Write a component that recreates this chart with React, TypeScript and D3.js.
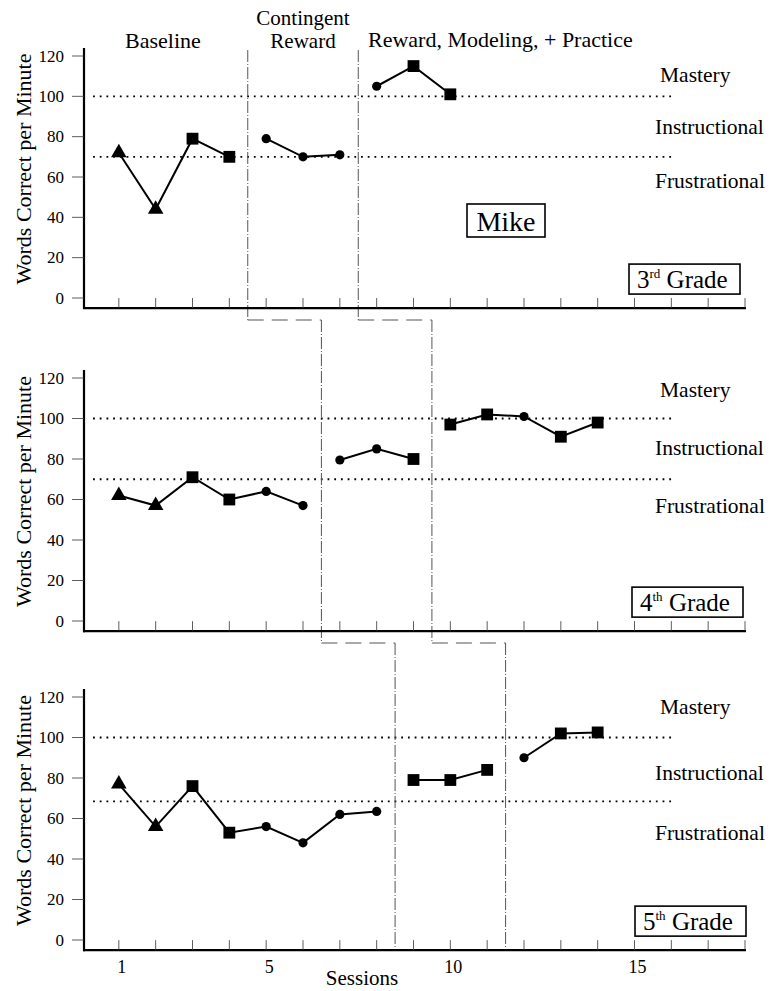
import * as d3 from "d3";

// ── Data ──────────────────────────────────────────────────────────────────────

const sessionTicks = d3.range(1, 19);
const sessionLabels = [1, 5, 10, 15];
const yTicks = [0, 20, 40, 60, 80, 100, 120];
const zoneLabels = ["Mastery", "Instructional", "Frustrational"];
const phaseTitles = ["Baseline", "Contingent Reward", "Reward, Modeling, + Practice"];

// 3rd grade
const sessions3 = [1, 2, 3, 4, 5, 6, 7, 8, 9, 10];
const values3 = [72, 44, 79, 70, 79, 70, 71, 105, 115, 101];
const markers3 = ["tri", "tri", "sq", "sq", "dot", "dot", "dot", "dot", "sq", "sq"];
const phases3 = [4.5, 7.5];
const bands3 = [100, 70];

// 4th grade
const sessions4 = [1, 2, 3, 4, 5, 6, 7, 8, 9, 10, 11, 12, 13, 14];
const values4 = [62, 57, 71, 60, 64, 57, 79.5, 85, 80, 97, 102, 101, 91, 98];
const markers4 = ["tri", "tri", "sq", "sq", "dot", "dot", "dot", "dot", "sq", "sq", "sq", "dot", "sq", "sq"];
const phases4 = [6.5, 9.5];
const bands4 = [100, 70];

// 5th grade
const sessions5 = [1, 2, 3, 4, 5, 6, 7, 8, 9, 10, 11, 12, 13, 14];
const values5 = [77, 56, 76, 53, 56, 48, 62, 63.5, 79, 79, 84, 90, 102, 102.5];
const markers5 = ["tri", "tri", "sq", "sq", "dot", "dot", "dot", "dot", "sq", "sq", "sq", "dot", "sq", "sq"];
const phases5 = [8.5, 11.5];
const bands5 = [100, 68.5];

// ── Layout ────────────────────────────────────────────────────────────────────

const W = 772;
const H = 991;
const FONT = "'Liberation Serif', 'Times New Roman', serif";

const x = d3.scaleLinear().domain([0, 18]).range([82, 745]);

interface Panel {
  grade: string;
  sup: string;
  sessions: number[];
  values: number[];
  markers: string[];
  phases: number[];
  bands: number[];
  y0: number; // pixel of value 0
  y120: number; // pixel of value 120
  zoneY: number[];
  phaseTop: number;
  phaseBottom: number;
}

const panels: Panel[] = [
  { grade: "3", sup: "rd", sessions: sessions3, values: values3, markers: markers3, phases: phases3, bands: bands3,
    y0: 298, y120: 56, zoneY: [82, 134, 188], phaseTop: 50, phaseBottom: 320 },
  { grade: "4", sup: "th", sessions: sessions4, values: values4, markers: markers4, phases: phases4, bands: bands4,
    y0: 621, y120: 378, zoneY: [397, 455, 513], phaseTop: 320, phaseBottom: 643 },
  { grade: "5", sup: "th", sessions: sessions5, values: values5, markers: markers5, phases: phases5, bands: bands5,
    y0: 940, y120: 697, zoneY: [714, 780, 840], phaseTop: 643, phaseBottom: 950 },
];

const triangle = d3.symbol().type(d3.symbolTriangle).size(105)();
const square = d3.symbol().type(d3.symbolSquare).size(140)();

function Marker({ kind, cx, cy }: { kind: string; cx: number; cy: number }) {
  if (kind === "dot") return <circle cx={cx} cy={cy} r={4.6} fill="#000" />;
  return <path d={kind === "tri" ? triangle! : square!} transform={`translate(${cx},${cy})`} fill="#000" />;
}

function PanelView({ p, idx }: { p: Panel; idx: number }) {
  const y = d3.scaleLinear().domain([0, 120]).range([p.y0, p.y120]);
  const axisY = y(-5);
  const pts = p.sessions.map((s, i) => ({ s, v: p.values[i], m: p.markers[i] }));
  const bounds = [-Infinity, ...p.phases, Infinity];
  const groups = bounds.slice(0, -1).map((lo, i) => pts.filter((d) => d.s > lo && d.s < bounds[i + 1]));
  const line = d3
    .line<{ s: number; v: number }>()
    .x((d) => x(d.s))
    .y((d) => y(d.v));
  const labelMid = (p.y0 + y(120)) / 2 - 8;

  return (
    <g>
      {/* threshold lines */}
      {p.bands.map((b) => (
        <line key={b} x1={x(0.3)} x2={x(16)} y1={y(b)} y2={y(b)} stroke="#000" strokeWidth={1.8}
          strokeDasharray="1.8,4.9" />
      ))}
      {/* phase change lines */}
      {p.phases.map((ph) => (
        <line key={ph} x1={x(ph)} x2={x(ph)} y1={p.phaseTop} y2={p.phaseBottom} stroke="#555"
          strokeWidth={1} strokeDasharray="12,2,1,2" />
      ))}
      {/* axes */}
      <line x1={84} x2={84} y1={y(124)} y2={axisY + 1} stroke="#000" strokeWidth={2.2} />
      <line x1={83} x2={x(18) + 1} y1={axisY} y2={axisY} stroke="#000" strokeWidth={2.2} />
      {yTicks.map((t) => (
        <g key={t}>
          <line x1={72} x2={84} y1={y(t)} y2={y(t)} stroke="#333" strokeWidth={0.8} />
          <text x={64} y={y(t) + 5.5} textAnchor="end" fontSize={17}>{t}</text>
        </g>
      ))}
      {sessionTicks.map((s) => (
        <line key={s} x1={x(s)} x2={x(s)} y1={axisY} y2={axisY - 10} stroke="#333" strokeWidth={0.8} />
      ))}
      <text transform={`translate(31,${labelMid}) rotate(-90)`} textAnchor="middle" fontSize={22}>
        Words Correct per Minute
      </text>
      {/* data */}
      {groups.map((g, i) => (
        <path key={i} d={line(g) ?? ""} fill="none" stroke="#000" strokeWidth={2} />
      ))}
      {pts.map((d, i) => (
        <Marker key={i} kind={d.m} cx={x(d.s)} cy={y(d.v)} />
      ))}
      {/* zone labels */}
      {zoneLabels.map((z, i) => (
        <text key={z} x={i === 0 ? 660 : 655} y={p.zoneY[i]} fontSize={21.5}>{z}</text>
      ))}
      {/* grade box */}
      <rect x={629 + idx * 3} y={axisY - 44} width={111} height={30} fill="#fff" stroke="#000" strokeWidth={1.6} />
      <text x={637 + idx * 3} y={axisY - 20} fontSize={25}>
        {p.grade}
        <tspan fontSize={13} dy={-10}>{p.sup}</tspan>
        <tspan dy={10}> Grade</tspan>
      </text>
    </g>
  );
}

export default function App() {
  const [p1, p2, p3] = panels;
  const connectors: [number, number, number][] = [
    [p1.phaseBottom, p1.phases[0], p2.phases[0]],
    [p1.phaseBottom, p1.phases[1], p2.phases[1]],
    [p2.phaseBottom, p2.phases[0], p3.phases[0]],
    [p2.phaseBottom, p2.phases[1], p3.phases[1]],
  ];
  const y3 = d3.scaleLinear().domain([0, 120]).range([p3.y0, p3.y120]);
  const [cont, rew] = phaseTitles[1].split(" ");

  return (
    <svg width={W} height={H} style={{ position: "absolute", left: 0, top: 0, background: "#fff" }}
      fontFamily={FONT} fill="#000">
      {connectors.map(([yy, a, b], i) => (
        <line key={i} x1={x(a)} x2={x(b)} y1={yy} y2={yy} stroke="#555" strokeWidth={1}
          strokeDasharray="16,8" />
      ))}
      {panels.map((p, i) => (
        <PanelView key={i} p={p} idx={i} />
      ))}
      {/* phase titles */}
      <text x={163} y={48} textAnchor="middle" fontSize={22}>{phaseTitles[0]}</text>
      <text x={303} y={25} textAnchor="middle" fontSize={21}>{cont}</text>
      <text x={303} y={48} textAnchor="middle" fontSize={21}>{rew}</text>
      <text x={368} y={47} fontSize={22}>{phaseTitles[2]}</text>
      {/* participant */}
      <rect x={467} y={204} width={78} height={33} fill="#fff" stroke="#000" strokeWidth={1.6} />
      <text x={506} y={231} textAnchor="middle" fontSize={28}>Mike</text>
      {/* session labels */}
      {sessionLabels.map((s) => (
        <text key={s} x={x(s) + 3} y={y3(-5) + 23} textAnchor="middle" fontSize={18}>{s}</text>
      ))}
      <text x={362} y={985} textAnchor="middle" fontSize={21}>Sessions</text>
    </svg>
  );
}
